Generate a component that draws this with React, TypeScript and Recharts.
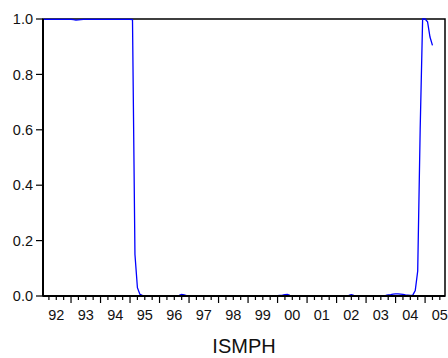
import { Line, LineChart, ReferenceArea, XAxis, YAxis } from "recharts";

// monthly smoothed regime probability, 1992M1 .. 2005M4
const ismph: number[] = [
  // 1992
  0.999, 0.999, 0.999, 0.999, 0.999, 0.999, 0.999, 0.999, 0.999, 0.999, 0.999, 0.999,
  // 1993
  0.999, 0.998, 0.996, 0.997, 0.998, 0.999, 0.999, 0.999, 0.999, 0.999, 0.999, 0.999,
  // 1994
  0.999, 0.999, 0.999, 0.999, 0.999, 0.999, 0.999, 0.999, 0.999, 0.999, 0.999, 0.999,
  // 1995
  0.999, 0.998, 0.15, 0.03, 0.006, 0.002, 0.001, 0.001, 0.001, 0.001, 0.001, 0.001,
  // 1996
  0.001, 0.001, 0.001, 0.001, 0.001, 0.001, 0.001, 0.001, 0.002, 0.006, 0.004, 0.001,
  // 1997
  0.001, 0.001, 0.001, 0.001, 0.001, 0.001, 0.001, 0.001, 0.001, 0.001, 0.001, 0.001,
  // 1998
  0.001, 0.001, 0.001, 0.001, 0.001, 0.001, 0.001, 0.001, 0.001, 0.001, 0.001, 0.001,
  // 1999
  0.001, 0.001, 0.001, 0.001, 0.001, 0.001, 0.001, 0.001, 0.001, 0.001, 0.001, 0.001,
  // 2000
  0.001, 0.002, 0.003, 0.005, 0.006, 0.002, 0.001, 0.001, 0.001, 0.001, 0.001, 0.001,
  // 2001
  0.001, 0.001, 0.001, 0.001, 0.001, 0.001, 0.001, 0.001, 0.001, 0.001, 0.001, 0.001,
  // 2002
  0.001, 0.001, 0.001, 0.001, 0.001, 0.002, 0.005, 0.002, 0.001, 0.001, 0.001, 0.001,
  // 2003
  0.001, 0.001, 0.001, 0.001, 0.001, 0.001, 0.001, 0.001, 0.002, 0.004, 0.005, 0.007,
  // 2004
  0.008, 0.008, 0.007, 0.006, 0.004, 0.003, 0.002, 0.003, 0.02, 0.09, 0.6, 1.0,
  // 2005
  1.0, 0.99, 0.935, 0.905,
];

const yearLabels = ["92", "93", "94", "95", "96", "97", "98", "99", "00", "01", "02", "03", "04", "05"];
const yTicks = [0, 0.2, 0.4, 0.6, 0.8, 1.0];

const data = ismph.map((v, i) => ({ t: i, v }));

// quarter marks, months since 1992M1
const qTicks: number[] = [];
for (let q = 1; q < yearLabels.length * 4 - 1; q++) qTicks.push(q * 3);

const xMin = 0.6;
const xMax = 164.1;
const font = "'Liberation Sans', Arial, sans-serif";

function QuarterTick(props: any) {
  const { x, y, payload } = props;
  const m = payload.value as number;
  const major = m % 12 === 0;
  const label = m % 12 === 6 ? yearLabels[(m - 6) / 12] : null;
  return (
    <g>
      <line x1={x} y1={y} x2={x} y2={y + (major ? 7 : 4)} stroke="#000" strokeWidth={1.2} />
      {label && (
        <text x={x} y={y + 24} textAnchor="middle" fontSize={14.5} fontFamily={font} fill="#111">
          {label}
        </text>
      )}
    </g>
  );
}

export default function App() {
  return (
    <div style={{ position: "absolute", left: 0, top: 0 }}>
      <LineChart width={448} height={358} data={data} margin={{ top: 19, right: 3, bottom: 0, left: 0 }}>
        <XAxis
          dataKey="t"
          type="number"
          domain={[xMin, xMax]}
          allowDataOverflow
          ticks={qTicks}
          interval={0}
          tickSize={0}
          tickMargin={0}
          tickLine={false}
          tick={<QuarterTick />}
          axisLine={{ stroke: "#000", strokeWidth: 1.8 }}
          height={62}
          label={{ value: "ISMPH", position: "insideBottom", offset: 5, fontSize: 20, fill: "#111", fontFamily: font }}
        />
        <YAxis
          domain={[0, 1]}
          ticks={yTicks}
          width={43}
          tickSize={7}
          tickMargin={3}
          tickFormatter={(v: number) => v.toFixed(1)}
          tick={{ fontSize: 14.5, fill: "#111", fontFamily: font }}
          tickLine={{ stroke: "#000", strokeWidth: 1.2 }}
          axisLine={{ stroke: "#000", strokeWidth: 2 }}
        />
        <ReferenceArea x1={xMin} x2={xMax} y1={0} y2={1} fill="none" stroke="#000" strokeWidth={1.5} ifOverflow="visible" />
        <Line
          type="linear"
          dataKey="v"
          stroke="#0000ff"
          strokeWidth={1.3}
          dot={false}
          isAnimationActive={false}
        />
      </LineChart>
    </div>
  );
}
